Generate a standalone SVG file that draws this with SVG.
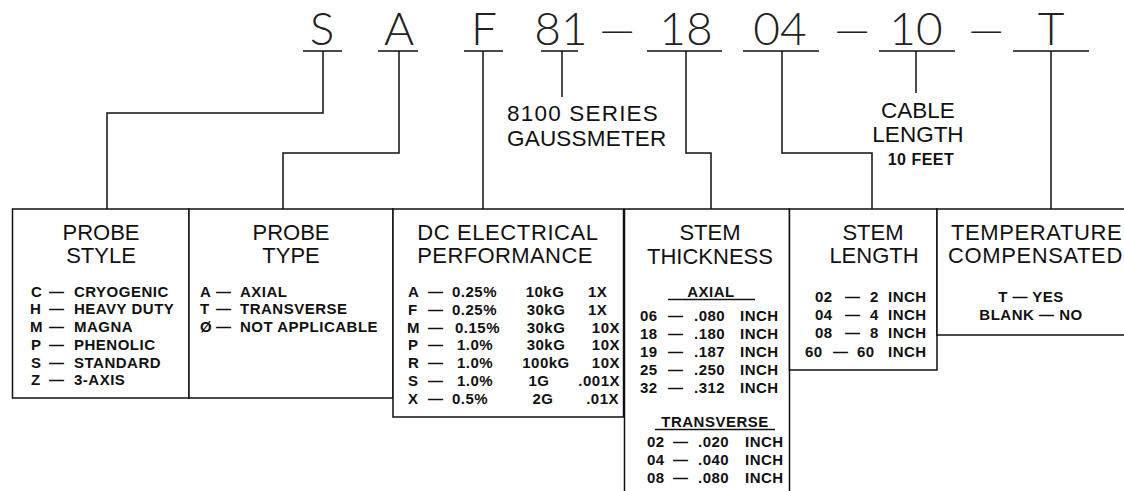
<svg xmlns="http://www.w3.org/2000/svg" width="1124" height="491" viewBox="0 0 1124 491">
<style>
.big{font-family:Lato,"Liberation Sans",sans-serif;font-weight:300;font-size:46px;text-anchor:middle;fill:#222}
.hdr{font-family:"Liberation Sans",Arial,sans-serif;font-size:22px;text-anchor:middle;fill:#111}
.lbl{font-family:"Liberation Sans",Arial,sans-serif;font-size:22.5px;fill:#111}
.it{font-family:"Liberation Sans",Arial,sans-serif;font-size:15px;font-weight:bold;letter-spacing:0.5px;fill:#111}
.box{fill:#fff;stroke:#111;stroke-width:1.5}
.conn{fill:none;stroke:#111;stroke-width:1.5}
.mid{text-anchor:middle}
.end{text-anchor:end}
</style>
<rect width="1124" height="491" fill="#fff"/>

<g id="part-number">
<text class="big" x="322" y="45">S</text>
<text class="big" x="399" y="45">A</text>
<text class="big" x="484" y="45">F</text>
<text class="big" x="561" y="45">81</text>
<text class="big" x="617" y="45">—</text>
<text class="big" x="686" y="45">18</text>
<text class="big" x="780" y="45">04</text>
<text class="big" x="852" y="45">—</text>
<text class="big" x="916" y="45">10</text>
<text class="big" x="986" y="45">—</text>
<text class="big" x="1051" y="45">T</text>
</g>

<g id="connectors">
<path class="conn" d="M303,51H342M378,51H418M464,51H503M541,51H578M647,51H722M743,51H819M879,51H955M1013,51H1089"/>
<path class="conn" d="M323,51V113H107V209"/>
<path class="conn" d="M399,51V153H283V209"/>
<path class="conn" d="M483,51V209"/>
<path class="conn" d="M562,51V97"/>
<path class="conn" d="M686,51V153H711V209"/>
<path class="conn" d="M782,51V153H872V209"/>
<path class="conn" d="M916,51V93"/>
<path class="conn" d="M1051,51V209"/>
</g>

<g id="series-label">
<text class="lbl" x="507" y="121" letter-spacing="1.2">8100 SERIES</text>
<text class="lbl" x="507" y="145.5" letter-spacing="0.2">GAUSSMETER</text>
</g>

<g id="cable-label">
<text class="lbl mid" x="918" y="118">CABLE</text>
<text class="lbl mid" x="918" y="142">LENGTH</text>
<text class="it mid" x="921" y="165" style="font-size:16px">10 FEET</text>
</g>

<g id="probe-style">
<rect class="box" x="12.5" y="209" width="176.5" height="189"/>
<text class="hdr" x="101" y="240">PROBE</text>
<text class="hdr" x="101" y="263">STYLE</text>
<text class="it" y="296.5"><tspan x="31">C</tspan><tspan x="49">—</tspan><tspan x="74">CRYOGENIC</tspan></text>
<text class="it" y="314.2"><tspan x="30">H</tspan><tspan x="49">—</tspan><tspan x="74">HEAVY DUTY</tspan></text>
<text class="it" y="332"><tspan x="30">M</tspan><tspan x="49">—</tspan><tspan x="74">MAGNA</tspan></text>
<text class="it" y="349.7"><tspan x="31">P</tspan><tspan x="49">—</tspan><tspan x="74">PHENOLIC</tspan></text>
<text class="it" y="367.5"><tspan x="31">S</tspan><tspan x="49">—</tspan><tspan x="74">STANDARD</tspan></text>
<text class="it" y="385.2"><tspan x="31">Z</tspan><tspan x="49">—</tspan><tspan x="74">3-AXIS</tspan></text>
</g>

<g id="probe-type">
<rect class="box" x="189" y="209" width="204" height="189"/>
<text class="hdr" x="291" y="240">PROBE</text>
<text class="hdr" x="291" y="263">TYPE</text>
<text class="it" y="296.5"><tspan x="200">A</tspan><tspan x="216">—</tspan><tspan x="240">AXIAL</tspan></text>
<text class="it" y="314.2"><tspan x="200">T</tspan><tspan x="216">—</tspan><tspan x="240">TRANSVERSE</tspan></text>
<text class="it" y="332"><tspan x="200">Ø</tspan><tspan x="216">—</tspan><tspan x="240">NOT APPLICABLE</tspan></text>
</g>

<g id="dc-electrical">
<rect class="box" x="393" y="209" width="230.5" height="208"/>
<text class="hdr" x="508" y="240" letter-spacing="0.6">DC ELECTRICAL</text>
<text class="hdr" x="505" y="263" letter-spacing="0.4">PERFORMANCE</text>
<text class="it" y="297"><tspan x="408">A</tspan><tspan x="428">—</tspan><tspan x="452">0.25%</tspan><tspan x="545" class="mid">10kG</tspan><tspan x="588">1X</tspan></text>
<text class="it" y="314.8"><tspan x="408">F</tspan><tspan x="428">—</tspan><tspan x="452">0.25%</tspan><tspan x="546" class="mid">30kG</tspan><tspan x="588">1X</tspan></text>
<text class="it" y="332.6"><tspan x="407">M</tspan><tspan x="428">—</tspan><tspan x="455">0.15%</tspan><tspan x="546" class="mid">30kG</tspan><tspan x="620" class="end">10X</tspan></text>
<text class="it" y="350.4"><tspan x="408">P</tspan><tspan x="428">—</tspan><tspan x="457">1.0%</tspan><tspan x="546" class="mid">30kG</tspan><tspan x="620" class="end">10X</tspan></text>
<text class="it" y="368.2"><tspan x="408">R</tspan><tspan x="428">—</tspan><tspan x="457">1.0%</tspan><tspan x="546" class="mid">100kG</tspan><tspan x="620" class="end">10X</tspan></text>
<text class="it" y="386"><tspan x="408">S</tspan><tspan x="428">—</tspan><tspan x="457">1.0%</tspan><tspan x="539" class="mid">1G</tspan><tspan x="620" class="end">.001X</tspan></text>
<text class="it" y="403.8"><tspan x="408">X</tspan><tspan x="428">—</tspan><tspan x="452">0.5%</tspan><tspan x="543" class="mid">2G</tspan><tspan x="619" class="end">.01X</tspan></text>
</g>

<g id="stem-thickness">
<rect class="box" x="624.5" y="209" width="165" height="295"/>
<text class="hdr" x="710" y="240">STEM</text>
<text class="hdr" x="710" y="264">THICKNESS</text>
<text class="it mid" x="711" y="297">AXIAL</text>
<line class="conn" x1="668" y1="299.5" x2="755" y2="299.5"/>
<text class="it" y="320.5"><tspan x="640">06</tspan><tspan x="668">—</tspan><tspan x="694">.080</tspan><tspan x="740">INCH</tspan></text>
<text class="it" y="338.7"><tspan x="640">18</tspan><tspan x="668">—</tspan><tspan x="694">.180</tspan><tspan x="740">INCH</tspan></text>
<text class="it" y="356.9"><tspan x="640">19</tspan><tspan x="668">—</tspan><tspan x="694">.187</tspan><tspan x="740">INCH</tspan></text>
<text class="it" y="375.1"><tspan x="640">25</tspan><tspan x="668">—</tspan><tspan x="694">.250</tspan><tspan x="740">INCH</tspan></text>
<text class="it" y="393.3"><tspan x="640">32</tspan><tspan x="668">—</tspan><tspan x="694">.312</tspan><tspan x="740">INCH</tspan></text>
<text class="it mid" x="715" y="427">TRANSVERSE</text>
<line class="conn" x1="655" y1="429.5" x2="775" y2="429.5"/>
<text class="it" y="446.7"><tspan x="647">02</tspan><tspan x="673">—</tspan><tspan x="698">.020</tspan><tspan x="745">INCH</tspan></text>
<text class="it" y="465"><tspan x="647">04</tspan><tspan x="673">—</tspan><tspan x="698">.040</tspan><tspan x="745">INCH</tspan></text>
<text class="it" y="483"><tspan x="647">08</tspan><tspan x="673">—</tspan><tspan x="698">.080</tspan><tspan x="745">INCH</tspan></text>
</g>

<g id="stem-length">
<rect class="box" x="789.5" y="209" width="147.5" height="161"/>
<text class="hdr" x="873" y="240">STEM</text>
<text class="hdr" x="874" y="263">LENGTH</text>
<text class="it" y="301.7"><tspan x="815">02</tspan><tspan x="845">—</tspan><tspan x="870">2</tspan><tspan x="888">INCH</tspan></text>
<text class="it" y="320"><tspan x="815">04</tspan><tspan x="845">—</tspan><tspan x="870">4</tspan><tspan x="888">INCH</tspan></text>
<text class="it" y="338.3"><tspan x="815">08</tspan><tspan x="845">—</tspan><tspan x="870">8</tspan><tspan x="888">INCH</tspan></text>
<text class="it" y="356.6"><tspan x="805">60</tspan><tspan x="833">—</tspan><tspan x="857">60</tspan><tspan x="888">INCH</tspan></text>
</g>

<g id="temperature-compensated">
<rect class="box" x="937" y="209" width="200" height="126"/>
<text class="hdr" x="951" y="240" style="text-anchor:start" letter-spacing="0.6">TEMPERATURE</text>
<text class="hdr" x="948" y="263" style="text-anchor:start" letter-spacing="0.6">COMPENSATED</text>
<text class="it mid" x="1031" y="302">T — YES</text>
<text class="it mid" x="1031" y="320">BLANK — NO</text>
</g>
</svg>
